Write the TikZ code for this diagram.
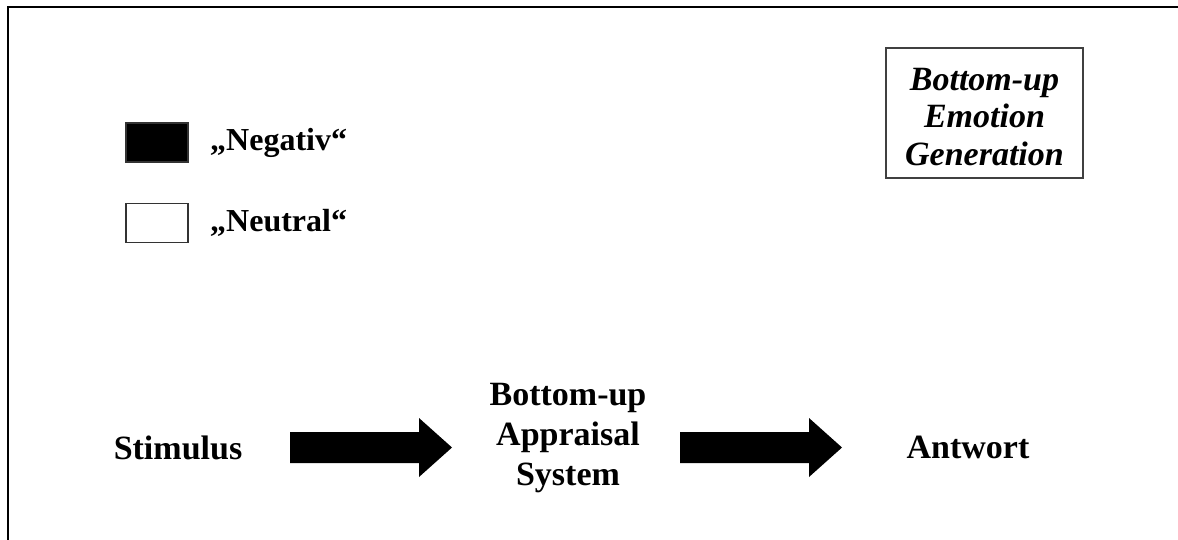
\documentclass[tikz,border=0pt]{standalone}
\usepackage{fontspec}
\setmainfont{Liberation Serif}
\begin{document}
\begin{tikzpicture}[x=1pt,y=-1pt,
  label text/.style={font=\fontsize{34}{40}\selectfont\bfseries, inner sep=0pt, align=center},
  legend text/.style={font=\fontsize{32}{38}\selectfont\bfseries, inner sep=0pt, anchor=west},
  legend box/.style={draw=black!80, line width=1.2pt, minimum width=62pt, minimum height=39pt, inner sep=0pt},
  title box/.style={draw=black!75, line width=1.2pt, minimum width=197pt, minimum height=130pt, inner sep=0pt},
  title text/.style={inner sep=0pt, align=center, font=\fontsize{34}{37.5}\selectfont\bfseries\itshape},
  blockarrow/.pic={
    \fill[black] (0,-15.5) -- (129,-15.5) -- (129,-29.5) -- (162,0)
      -- (129,29.5) -- (129,15.5) -- (0,15.5) -- cycle;
  }]
  \useasboundingbox (0,0) rectangle (1178,539);

  % open frame: left and top edges only
  \coordinate (fbl) at (8,539);
  \coordinate (ftl) at (8,7);
  \coordinate (ftr) at (1178,7);
  \draw[line width=2pt, line cap=rect] (fbl) -- (ftl) -- (ftr);

  % legend
  \node[legend box, fill=black] (negbox) at (157,142.5) {};
  \node[legend box, fill=white] (neubox) at (157,223) {};
  \node[legend text] (negtxt) at (210,143) {„Negativ“};
  \node[legend text] (neutxt) at (210,223) {„Neutral“};

  % title box
  \node[title box] (title) at (984.5,113) {};
  \node[title text] (titletxt) at (984.5,117) {Bottom-up\\Emotion\\Generation};

  % processing chain
  \node[label text] (stim) at (178,448) {Stimulus};
  \node[label text] (appr) at (568,438) {Bottom-up\\Appraisal\\System};
  \node[label text] (resp) at (968,447) {Antwort};
  \coordinate (tailA) at (290,447.5);
  \coordinate (tailB) at (680,447.5);
  \pic at (tailA) {blockarrow};
  \pic at (tailB) {blockarrow};
\end{tikzpicture}
\end{document}
